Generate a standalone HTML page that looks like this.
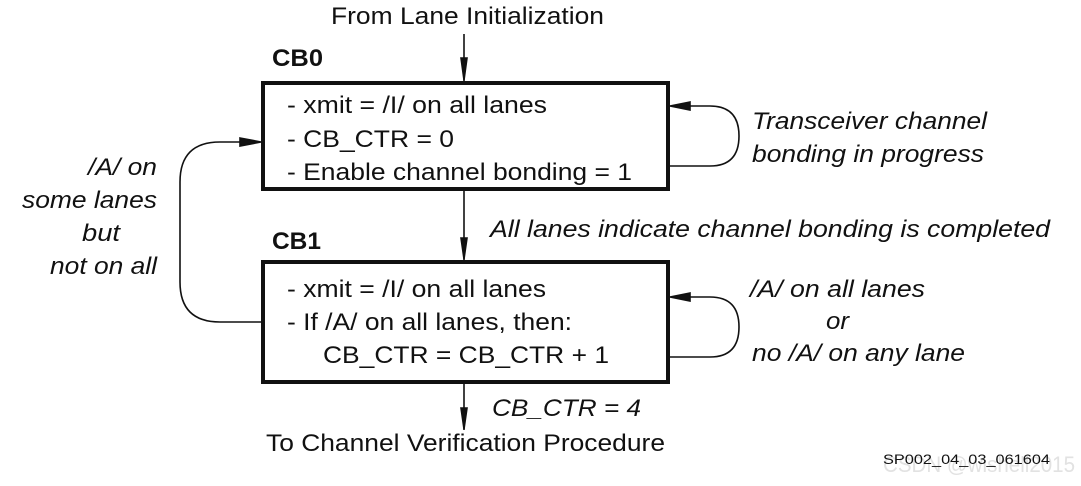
<!DOCTYPE html>
<html><head><style>
body{margin:0;background:#fff}
svg text{font-family:"Liberation Sans",Arial,sans-serif;fill:#111}
</style></head><body>
<svg width="1081" height="481" viewBox="0 0 1081 481" xmlns="http://www.w3.org/2000/svg">
<g font-size="24">
<text x="331" y="24" textLength="273" lengthAdjust="spacingAndGlyphs">From Lane Initialization</text>
<text x="272" y="66" font-weight="bold" textLength="51" lengthAdjust="spacingAndGlyphs">CB0</text>
<text x="272" y="249" font-weight="bold" textLength="49" lengthAdjust="spacingAndGlyphs">CB1</text>
</g>
<g stroke="#111" fill="none" stroke-width="1.6">
<line x1="464" y1="34" x2="464" y2="82"/>
<path d="M461,58 L464,80 L467,58 Z" fill="#111"/>
<rect x="263" y="83" width="405" height="106" stroke-width="4"/>
<line x1="464" y1="191" x2="464" y2="260"/>
<path d="M461,238 L464,259 L467,238 Z" fill="#111"/>
<rect x="263" y="262" width="405" height="120" stroke-width="4"/>
<line x1="464" y1="384" x2="464" y2="430"/>
<path d="M461,408 L464,429 L467,408 Z" fill="#111"/>
<path d="M262,322 L220,322 Q180,322 180,282 L180,182 Q180,142 220,142 L240,142"/>
<path d="M240,138 L261,142 L240,146 Z" fill="#111"/>
<path d="M670,166 L710,166 Q739,166 739,136 Q739,106 710,106 L690,106"/>
<path d="M690,102 L670,106 L690,110 Z" fill="#111"/>
<path d="M670,357 L710,357 Q739,357 739,327 Q739,297 710,297 L690,297"/>
<path d="M690,293 L670,297 L690,301 Z" fill="#111"/>
</g>
<g font-size="24" lengthAdjust="spacingAndGlyphs">
<text x="287" y="113" textLength="260" lengthAdjust="spacingAndGlyphs">- xmit = /I/ on all lanes</text>
<text x="287" y="147" textLength="167" lengthAdjust="spacingAndGlyphs">- CB_CTR = 0</text>
<text x="287" y="180" textLength="345" lengthAdjust="spacingAndGlyphs">- Enable channel bonding = 1</text>
<text x="287" y="297" textLength="259" lengthAdjust="spacingAndGlyphs">- xmit = /I/ on all lanes</text>
<text x="287" y="330" textLength="285" lengthAdjust="spacingAndGlyphs">- If /A/ on all lanes, then:</text>
<text x="323" y="363" textLength="286" lengthAdjust="spacingAndGlyphs">CB_CTR = CB_CTR + 1</text>
<text x="266" y="451" textLength="399" lengthAdjust="spacingAndGlyphs">To Channel Verification Procedure</text>
</g>
<g font-size="24" font-style="italic">
<text x="752" y="129" textLength="235" lengthAdjust="spacingAndGlyphs">Transceiver channel</text>
<text x="752" y="162" textLength="232" lengthAdjust="spacingAndGlyphs">bonding in progress</text>
<text x="490" y="237" textLength="560" lengthAdjust="spacingAndGlyphs">All lanes indicate channel bonding is completed</text>
<text x="750" y="297" textLength="175" lengthAdjust="spacingAndGlyphs">/A/ on all lanes</text>
<text x="826" y="329" textLength="23" lengthAdjust="spacingAndGlyphs">or</text>
<text x="752" y="361" textLength="213" lengthAdjust="spacingAndGlyphs">no /A/ on any lane</text>
<text x="492" y="416" textLength="149" lengthAdjust="spacingAndGlyphs">CB_CTR = 4</text>
<text x="88" y="175" textLength="69" lengthAdjust="spacingAndGlyphs">/A/ on</text>
<text x="22" y="208" textLength="135" lengthAdjust="spacingAndGlyphs">some lanes</text>
<text x="82" y="241" textLength="38" lengthAdjust="spacingAndGlyphs">but</text>
<text x="50" y="274" textLength="107" lengthAdjust="spacingAndGlyphs">not on all</text>
</g>
<text x="883" y="472" font-size="22" style="fill:#e2e2e2" textLength="192" lengthAdjust="spacingAndGlyphs">CSDN @wishell2015</text>
<text x="883" y="464" font-size="14" textLength="167" lengthAdjust="spacingAndGlyphs">SP002_04_03_061604</text>
</svg>
</body></html>
